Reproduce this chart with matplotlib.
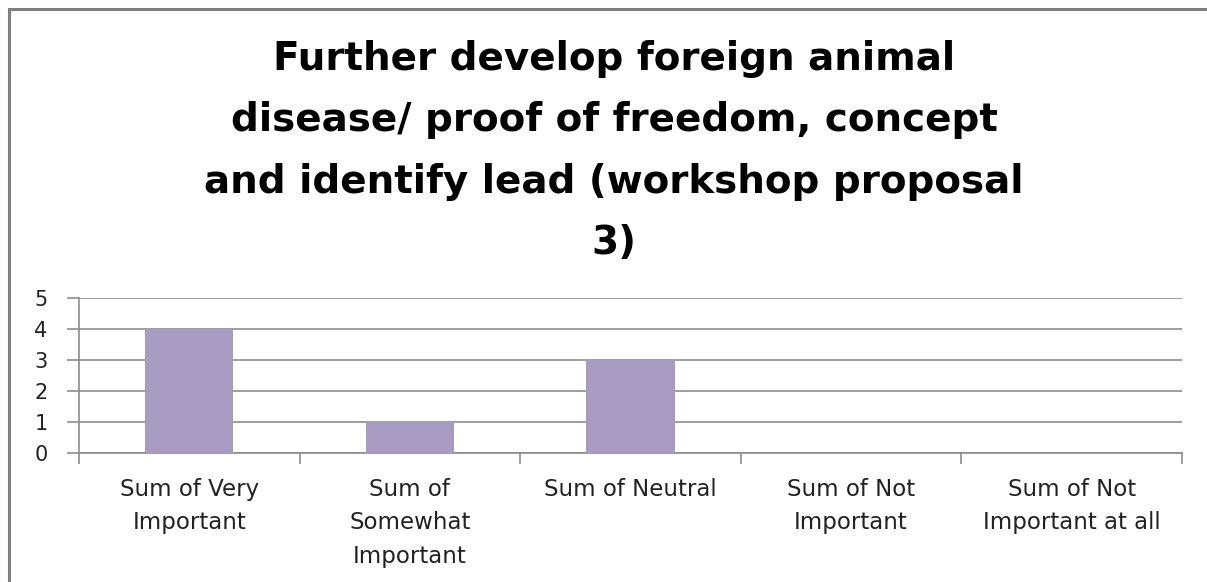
import matplotlib
matplotlib.use("Agg")
import matplotlib.pyplot as plt
from matplotlib.patches import Rectangle

# data
categories = ["Sum of Very\nImportant", "Sum of\nSomewhat\nImportant", "Sum of Neutral",
              "Sum of Not\nImportant", "Sum of Not\nImportant at all"]
values = [4, 1, 3, 0, 0]
yticks = [0, 1, 2, 3, 4, 5]
title = ("Further develop foreign animal\ndisease/ proof of freedom, concept\n"
         "and identify lead (workshop proposal\n3)")

bar_color = "#A79BC1"
line_color = "#8C8C8C"

W, H = 1207, 582
fig = plt.figure(figsize=(W / 100, H / 100), dpi=100)
fig.patch.set_facecolor("white")

# outer chart border (runs off the right and bottom edges)
fig.patches.append(Rectangle((9 / W, -0.1), 1.2, 1 - 9 / H + 0.1, transform=fig.transFigure,
                             fill=False, edgecolor="#7F7F7F", linewidth=2.2))

ax = fig.add_axes([79 / W, 1 - 453 / H, (1182 - 79) / W, (453 - 298) / H])

x = list(range(len(categories)))
ax.bar(x, values, width=0.4, color=bar_color, zorder=3)

ax.set_xlim(-0.5, len(categories) - 0.5)
ax.set_ylim(0, 5)
ax.set_yticks(yticks)
ax.grid(axis="y", color=line_color, linewidth=1.2, zorder=0)

ax.set_xticks(x)
ax.set_xticklabels(categories, fontsize=16.5, color="#222222", linespacing=1.57)
ax.set_xticks([i - 0.5 for i in range(len(categories) + 1)], minor=True)
ax.tick_params(axis="x", which="major", length=0, pad=18)
ax.tick_params(axis="x", which="minor", length=8, width=1.2, color=line_color, direction="out")
ax.tick_params(axis="y", length=8.6, width=1.2, color=line_color, labelsize=15, pad=14,
               labelcolor="#222222")

for side in ["top", "right"]:
    ax.spines[side].set_visible(False)
for side in ["left", "bottom"]:
    ax.spines[side].set_color(line_color)
    ax.spines[side].set_linewidth(1.2)

fig.text(614 / W, 1 - 151 / H, title, ha="center", va="center", fontsize=28,
         fontweight="bold", linespacing=1.78)

fig.savefig("out.png", dpi=100)
